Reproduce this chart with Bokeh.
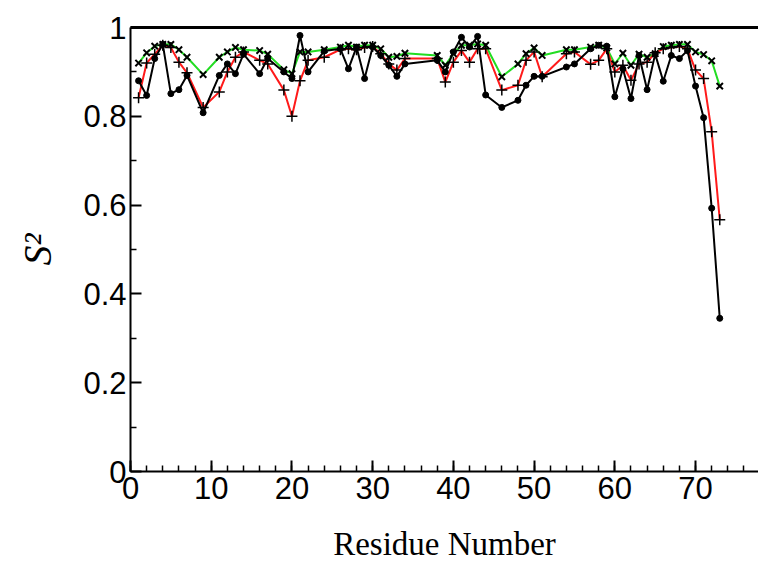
from bokeh.plotting import figure
from bokeh.models import Range1d, FixedTicker, LinearAxis, CustomJSTickFormatter, ColumnDataSource
from bokeh.embed import file_html
from bokeh.resources import INLINE

residues = [1, 2, 3, 4, 5, 6, 7, 9, 11, 12, 13, 14, 16, 17, 19, 20, 21, 22, 24, 26,
            27, 28, 29, 30, 31, 32, 33, 34, 38, 39, 40, 41, 42, 43, 44, 46, 48, 49, 50, 51,
            54, 55, 57, 58, 59, 60, 61, 62, 63, 64, 65, 66, 67, 68, 69, 70, 71, 72, 73]

s2_green = [0.920, 0.943, 0.958, 0.962, 0.962, 0.950, 0.933, 0.894, 0.933, 0.945,
            0.955, 0.950, 0.948, 0.940, 0.905, 0.896, 0.945, 0.945, 0.950, 0.956,
            0.960, 0.956, 0.960, 0.960, 0.952, 0.933, 0.935, 0.942, 0.937, 0.915,
            0.941, 0.960, 0.960, 0.963, 0.960, 0.889, 0.918, 0.941, 0.954, 0.937,
            0.950, 0.950, 0.956, 0.960, 0.954, 0.918, 0.942, 0.915, 0.940, 0.933,
            0.941, 0.957, 0.960, 0.962, 0.962, 0.945, 0.939, 0.925, 0.868]

s2_red = [0.842, 0.920, 0.940, 0.960, 0.955, 0.922, 0.898, 0.820, 0.855, 0.900,
          0.933, 0.945, 0.926, 0.918, 0.859, 0.800, 0.880, 0.926, 0.933, 0.950,
          0.952, 0.950, 0.955, 0.957, 0.941, 0.918, 0.904, 0.930, 0.930, 0.877,
          0.922, 0.948, 0.922, 0.952, 0.952, 0.859, 0.870, 0.926, 0.945, 0.889,
          0.941, 0.945, 0.917, 0.926, 0.952, 0.900, 0.915, 0.881, 0.918, 0.922,
          0.943, 0.952, 0.955, 0.957, 0.952, 0.904, 0.885, 0.765, 0.567]

s2_black = [0.880, 0.847, 0.930, 0.962, 0.851, 0.860, 0.892, 0.808, 0.892, 0.918,
            0.896, 0.940, 0.896, 0.930, 0.900, 0.885, 0.982, 0.900, 0.947, 0.952,
            0.907, 0.956, 0.885, 0.956, 0.937, 0.915, 0.890, 0.918, 0.926, 0.900,
            0.945, 0.978, 0.956, 0.980, 0.848, 0.820, 0.836, 0.870, 0.890, 0.890,
            0.911, 0.918, 0.952, 0.960, 0.958, 0.844, 0.907, 0.840, 0.937, 0.860,
            0.940, 0.879, 0.937, 0.930, 0.948, 0.868, 0.797, 0.593, 0.345]

x_ticks = [0, 10, 20, 30, 40, 50, 60, 70]
y_ticks = [0, 0.2, 0.4, 0.6, 0.8, 1.0]

src = ColumnDataSource(dict(r=residues, g=s2_green, red=s2_red, k=s2_black))

p = figure(width=758, height=564, output_backend="svg", toolbar_location=None,
           x_range=Range1d(0, 77.8), y_range=Range1d(0, 1.0),
           min_border_left=130, min_border_right=0, min_border_top=27, min_border_bottom=91)
p.outline_line_color = None
p.grid.visible = False
p.background_fill_color = "white"
p.border_fill_color = "white"

p.line("r", "g", source=src, line_color="#22dd22", line_width=2)
p.line("r", "red", source=src, line_color="#ff1a1a", line_width=2)
p.line("r", "k", source=src, line_color="black", line_width=2)
p.scatter("r", "g", source=src, marker="x", size=9, line_color="black", line_width=2)
p.scatter("r", "red", source=src, marker="cross", size=11, line_color="black", line_width=1.5)
p.scatter("r", "k", source=src, marker="circle", size=6, fill_color="black", line_color="black")

fmt = CustomJSTickFormatter(code="return String(Math.round(tick*10)/10);")

xa = p.xaxis[0]
xa.ticker = FixedTicker(ticks=x_ticks, minor_ticks=list(range(0, 80, 2)))
xa.formatter = fmt
ya = p.yaxis[0]
ya.ticker = FixedTicker(ticks=y_ticks, minor_ticks=[0.1, 0.3, 0.5, 0.7, 0.9])
ya.formatter = fmt

for ax in (xa, ya):
    ax.axis_line_width = 2
    ax.axis_line_color = "black"
    ax.major_tick_in = 11
    ax.major_tick_out = 0
    ax.minor_tick_in = 6
    ax.minor_tick_out = 0
    ax.major_tick_line_width = 2
    ax.minor_tick_line_width = 1.5
    ax.major_tick_line_color = "black"
    ax.minor_tick_line_color = "black"
    ax.major_label_text_font = "Liberation Sans"
    ax.major_label_text_font_size = "31px"
    ax.major_label_text_color = "black"
    ax.axis_label_text_color = "black"
    ax.axis_label_text_font = "Liberation Serif"

xa.axis_label = "Residue Number"
xa.axis_label_text_font_size = "33px"
xa.axis_label_text_font_style = "normal"
xa.major_label_standoff = 5
xa.axis_label_standoff = 24

ya.axis_label = "S²"
ya.axis_label_text_font_size = "40px"
ya.axis_label_text_font_style = "italic"
ya.major_label_standoff = 4
ya.axis_label_standoff = 20

top = LinearAxis(ticker=FixedTicker(ticks=[]), axis_line_width=3, axis_line_color="black",
                 major_tick_in=0, major_tick_out=0, minor_tick_in=0, minor_tick_out=0,
                 major_label_text_font_size="0px")
p.add_layout(top, "above")

open("out.html", "w").write(file_html(p, INLINE))
